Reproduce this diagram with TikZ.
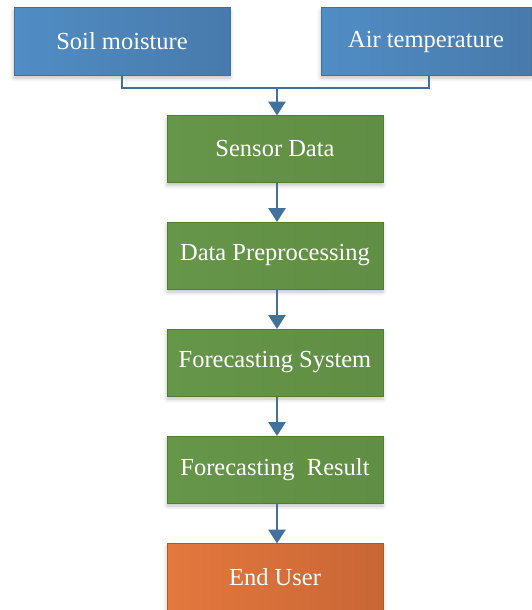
\documentclass[tikz,border=0pt]{standalone}
\usepackage{fontspec}
\setmainfont{Liberation Serif}
\usetikzlibrary{arrows.meta,shadows.blur,positioning}
\definecolor{blueA}{RGB}{80,141,196}
\definecolor{blueB}{RGB}{72,122,172}
\definecolor{blueEdge}{RGB}{65,113,156}
\definecolor{greenA}{RGB}{102,150,74}
\definecolor{greenB}{RGB}{96,142,68}
\definecolor{greenEdge}{RGB}{80,126,50}
\definecolor{orangeA}{RGB}{228,120,62}
\definecolor{orangeB}{RGB}{200,102,53}
\definecolor{orangeEdge}{RGB}{174,90,33}
\definecolor{linkBlue}{RGB}{65,113,156}
\tikzset{
  boxbase/.style={draw, line width=1pt, minimum width=216pt, minimum height=67pt,
    inner sep=0pt, text=white, font=\fontsize{24.5}{28}\selectfont,
    blur shadow={shadow xshift=0pt, shadow yshift=-3pt, shadow blur radius=4pt, shadow opacity=25}},
  inputbox/.style={boxbase, draw=blueEdge, left color=blueA, right color=blueB},
  stagebox/.style={boxbase, draw=greenEdge, left color=greenA, right color=greenB},
  userbox/.style={boxbase, draw=orangeEdge, left color=orangeA, right color=orangeB},
  link/.style={draw=linkBlue, line width=2.8pt},
  flow/.style={link, -{Triangle[width=17pt,length=14pt]}, shorten >=-0.5pt}
}
\begin{document}
\begin{tikzpicture}[x=1pt,y=-1pt]
  \useasboundingbox (0,0) rectangle (532,610);
  \node[inputbox] (soil) at (122,41.5) {Soil moisture};
  \node[inputbox, minimum width=210pt] (air) at (426,41.5) {Air temperature};
  \node[stagebox] (sensor) at (275,149) {Sensor Data};
  \node[stagebox] (prep) at (275,255.5) {Data Preprocessing};
  \node[stagebox] (fsys) at (275,362.5) {Forecasting System};
  \node[stagebox] (fres) at (275,469.5) {Forecasting\ \ Result};
  \node[userbox] (user) at (275,577) {End User};

  \coordinate (join) at (277,88);
  \draw[link] (soil.south -| 122,0) |- (join);
  \draw[link] (air.south -| 429,0) |- (join);
  \draw[flow] (join) -- (join |- sensor.north);
  \draw[flow] (sensor.south -| join) -- (prep.north -| join);
  \draw[flow] (prep.south -| join) -- (fsys.north -| join);
  \draw[flow] (fsys.south -| join) -- (fres.north -| join);
  \draw[flow] (fres.south -| join) -- (user.north -| join);
\end{tikzpicture}
\end{document}
